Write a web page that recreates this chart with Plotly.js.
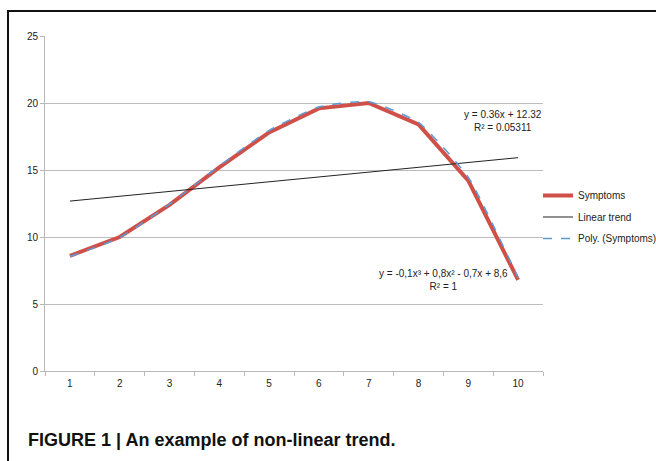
<!DOCTYPE html>
<html>
<head>
<meta charset="utf-8">
<script src="https://cdn.plot.ly/plotly-3.0.1.min.js"></script>
<style>
  html, body { margin: 0; padding: 0; background: #fff; }
  #wrap { position: relative; width: 656px; height: 461px; overflow: hidden; }
  #chart { position: absolute; left: 0; top: 0; width: 656px; height: 461px; z-index: 1; }
  .rule { position: absolute; background: #111; pointer-events: none; z-index: 5; }
  #topRule { left: 7px; top: 10px; width: 649px; height: 2px; }
  #leftRule { left: 7px; top: 10px; width: 2px; height: 451px; }
</style>
</head>
<body>
<div id="wrap">
  <div id="chart"></div>
  <div id="topRule" class="rule"></div>
  <div id="leftRule" class="rule"></div>
</div>
<script>
// ---- data ----
const categories = ['1', '2', '3', '4', '5', '6', '7', '8', '9', '10'];
const symptoms   = [8.6, 10.0, 12.4, 15.2, 17.8, 19.6, 20.0, 18.4, 14.2, 6.8];
const polyFit    = [8.55, 9.95, 12.45, 15.3, 17.95, 19.7, 20.1, 18.55, 14.45, 6.95];
const linearCats = ['1', '10'];
const linearVals = [12.68, 15.92];
const yTicks     = [0, 5, 10, 15, 20, 25];
const linearEq   = 'y = 0.36x + 12.32<br>R² = 0.05311';
const polyEq     = 'y = -0,1x³ + 0,8x² - 0,7x + 8,6<br>R² = 1';
const caption    = '<b>FIGURE 1 | An example of non-linear trend.</b>';

const W = 656, H = 461;
const M = { l: 45, r: 113, t: 36, b: 90, autoexpand: false };
const pw = W - M.l - M.r, ph = H - M.t - M.b;
const px = x => (x - M.l) / pw;          // pixel -> paper x
const py = y => (H - M.b - y) / ph;      // pixel -> paper y

const traces = [
  { x: categories, y: symptoms, type: 'scatter', mode: 'lines', name: 'Symptoms',
    legendgroup: 'a', line: { color: '#cf5049', width: 4 } },
  { x: linearCats, y: linearVals, type: 'scatter', mode: 'lines', name: 'Linear trend',
    legendgroup: 'b', line: { color: '#222222', width: 1 } },
  { x: categories, y: polyFit, type: 'scatter', mode: 'lines', name: 'Poly. (Symptoms)',
    legendgroup: 'c',
    line: { color: '#5b9bd5', width: 1.5, dash: 'dash', shape: 'spline', smoothing: 0.5 } }
];

const layout = {
  width: W, height: H,
  margin: M,
  paper_bgcolor: '#ffffff', plot_bgcolor: '#ffffff',
  font: { family: 'Liberation Sans, Arial, sans-serif', size: 10, color: '#222' },
  showlegend: true,
  legend: {
    x: px(538), y: py(181), xanchor: 'left', yanchor: 'top',
    font: { size: 10, color: '#222' }, bgcolor: 'rgba(0,0,0,0)',
    traceorder: 'grouped', tracegroupgap: 2.5
  },
  xaxis: {
    type: 'category', categoryorder: 'array', categoryarray: categories,
    range: [-0.5, 9.5],
    showline: true, linecolor: '#b8b8b8', linewidth: 1,
    ticks: 'outside', ticklen: 4, tickcolor: '#b8b8b8', tickson: 'boundaries',
    ticklabelstandoff: 3,
    showgrid: false, zeroline: false, fixedrange: true,
    tickfont: { size: 10, color: '#222' }
  },
  yaxis: {
    range: [0, 25], tickvals: yTicks, ticktext: yTicks.map(String),
    showline: true, linecolor: '#b8b8b8', linewidth: 1,
    ticks: 'outside', ticklen: 4, tickcolor: '#b8b8b8',
    showgrid: true, gridcolor: '#bdbdbd', gridwidth: 1, zeroline: false,
    tickfont: { size: 10, color: '#222' }
  },
  annotations: [
    { xref: 'paper', yref: 'paper', x: px(503), y: py(121), text: linearEq,
      showarrow: false, align: 'center', xanchor: 'center', yanchor: 'middle',
      font: { size: 10, color: '#222' } },
    { xref: 'paper', yref: 'paper', x: px(443), y: py(279.5), text: polyEq,
      showarrow: false, align: 'center', xanchor: 'center', yanchor: 'middle',
      font: { size: 10, color: '#222' } },
    { xref: 'paper', yref: 'paper', x: px(26), y: py(440), text: caption,
      showarrow: false, xanchor: 'left', yanchor: 'middle',
      font: { size: 18, color: '#111', family: 'Liberation Sans, Arial, sans-serif' } }
  ]
};

Plotly.newPlot('chart', traces, layout, { displayModeBar: false, staticPlot: true });
</script>
</body>
</html>
